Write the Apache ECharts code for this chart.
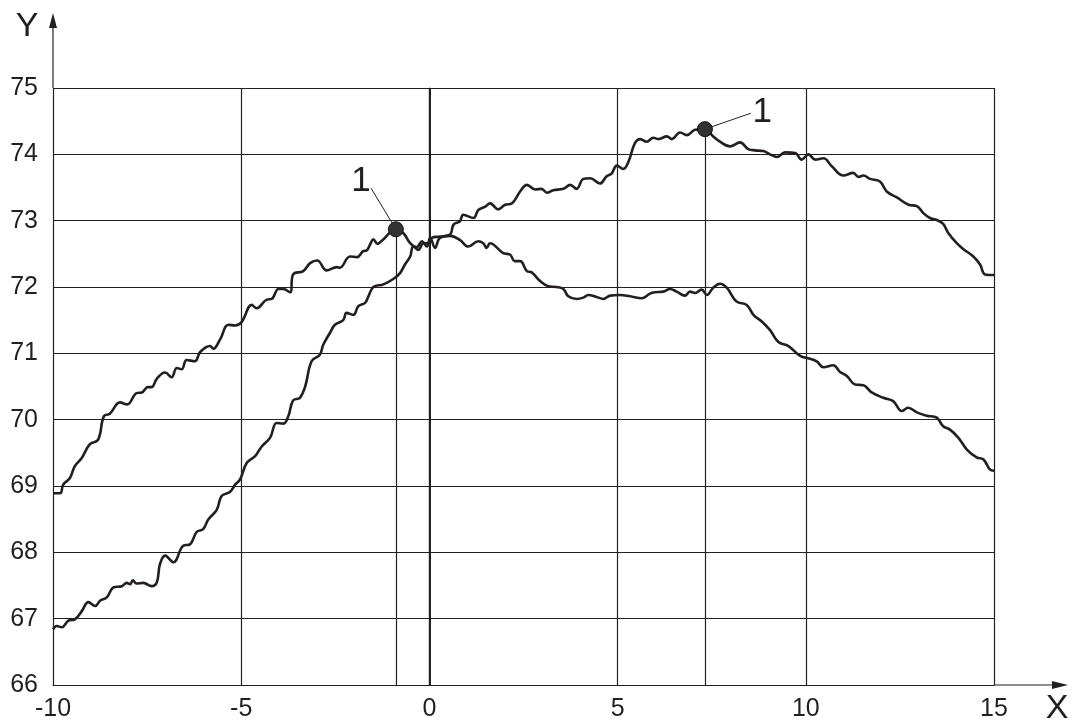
<!DOCTYPE html>
<html>
<head>
<meta charset="utf-8">
<script src="https://cdn.jsdelivr.net/npm/echarts@6/dist/echarts.min.js"></script>
<style>
  html, body { margin: 0; padding: 0; background: #fff; }
  #chart { width: 1072px; height: 722px; }
</style>
</head>
<body>
<div id="chart"></div>
<script>
// curve that peaks near x = -1 and ends low
var xA = [-10.00, -9.81, -9.73, -9.55, -9.42, -9.24, -9.02, -8.80, -8.65, -8.49, -8.22, -8.03, -7.78, -7.64, -7.48, -7.38, -7.24, -7.02, -6.85, -6.71,
  -6.58, -6.45, -6.23, -6.09, -5.83, -5.74, -5.56, -5.34, -5.16, -4.99, -4.72, -4.59, -4.32, -4.19, -4.01, -3.88, -3.70, -3.62, -3.35, -3.17,
  -2.98, -2.73, -2.46, -2.38, -2.11, -1.92, -1.76, -1.67, -1.56, -1.49, -1.38, -1.24, -0.89, -0.69, -0.51, -0.34, -0.20, -0.07, 0.02, 0.15,
  0.28, 0.55, 0.81, 1.03, 1.30, 1.43, 1.52, 1.61, 1.96, 2.14, 2.27, 2.41, 2.59, 2.72, 2.94, 3.16, 3.38, 3.56, 3.69, 3.91,
  4.09, 4.22, 4.44, 4.62, 4.80, 5.06, 5.33, 5.64, 5.86, 5.99, 6.21, 6.39, 6.57, 6.79, 6.92, 7.06, 7.23, 7.37, 7.54, 7.72,
  7.90, 8.16, 8.43, 8.61, 8.83, 9.05, 9.27, 9.54, 9.85, 10.11, 10.29, 10.47, 10.73, 10.91, 11.09, 11.31, 11.53, 11.75, 12.06, 12.32,
  12.55, 12.72, 12.95, 13.21, 13.48, 13.65, 13.83, 14.05, 14.28, 14.54, 14.72, 14.89, 15.00];
var yA = [68.89, 68.89, 69.02, 69.12, 69.30, 69.42, 69.63, 69.70, 70.05, 70.09, 70.26, 70.23, 70.40, 70.41, 70.49, 70.49, 70.62, 70.71, 70.64, 70.78,
  70.76, 70.90, 70.88, 71.02, 71.11, 71.07, 71.21, 71.43, 71.42, 71.47, 71.73, 71.68, 71.81, 71.82, 71.97, 71.97, 71.92, 72.19, 72.24, 72.36,
  72.40, 72.25, 72.30, 72.29, 72.46, 72.45, 72.54, 72.55, 72.66, 72.72, 72.65, 72.71, 72.87, 72.81, 72.66, 72.60, 72.69, 72.61, 72.74, 72.59,
  72.74, 72.77, 72.71, 72.61, 72.69, 72.66, 72.59, 72.66, 72.51, 72.49, 72.39, 72.39, 72.24, 72.22, 72.09, 72.01, 72.00, 71.97, 71.86, 71.82,
  71.84, 71.88, 71.85, 71.82, 71.87, 71.88, 71.86, 71.83, 71.90, 71.92, 71.93, 71.97, 71.93, 71.87, 71.93, 71.91, 71.96, 71.88, 71.99, 72.05,
  71.99, 71.78, 71.73, 71.58, 71.48, 71.35, 71.17, 71.11, 70.96, 70.92, 70.88, 70.79, 70.82, 70.72, 70.66, 70.53, 70.52, 70.41, 70.33, 70.28,
  70.13, 70.18, 70.11, 70.06, 70.03, 69.90, 69.85, 69.73, 69.55, 69.43, 69.40, 69.25, 69.23];

// curve that starts low and peaks near x = 7.3
var xB = [-10.00, -9.90, -9.77, -9.59, -9.42, -9.24, -9.06, -8.88, -8.75, -8.57, -8.40, -8.17, -8.04, -7.95, -7.88, -7.78, -7.60, -7.38, -7.24, -7.16,
  -7.02, -6.80, -6.54, -6.36, -6.18, -6.01, -5.87, -5.65, -5.52, -5.30, -5.16, -5.03, -4.85, -4.63, -4.45, -4.23, -4.06, -3.88, -3.75, -3.62,
  -3.44, -3.30, -3.13, -2.91, -2.82, -2.64, -2.51, -2.29, -2.20, -2.02, -1.89, -1.71, -1.62, -1.49, -1.22, -0.96, -0.78, -0.65, -0.51, -0.43,
  -0.29, -0.16, -0.03, 0.06, 0.28, 0.55, 0.64, 0.81, 0.90, 1.17, 1.30, 1.48, 1.61, 1.83, 2.01, 2.19, 2.41, 2.59, 2.81, 2.98,
  3.12, 3.29, 3.56, 3.74, 3.91, 4.09, 4.27, 4.53, 4.71, 4.84, 4.98, 5.15, 5.29, 5.46, 5.60, 5.77, 5.95, 6.08, 6.31, 6.44,
  6.66, 6.84, 7.06, 7.32, 7.54, 7.72, 7.99, 8.25, 8.47, 8.65, 8.87, 9.05, 9.23, 9.45, 9.72, 9.89, 10.07, 10.25, 10.47, 10.69,
  11.00, 11.26, 11.40, 11.53, 11.71, 11.97, 12.15, 12.42, 12.73, 12.95, 13.13, 13.30, 13.48, 13.65, 13.79, 14.01, 14.19, 14.45, 14.63, 14.76, 15.00];
var yB = [66.84, 66.89, 66.87, 66.97, 66.99, 67.11, 67.25, 67.19, 67.27, 67.32, 67.47, 67.49, 67.54, 67.52, 67.58, 67.53, 67.54, 67.49, 67.55, 67.82,
  67.95, 67.85, 68.10, 68.12, 68.31, 68.35, 68.50, 68.64, 68.85, 68.91, 69.02, 69.10, 69.35, 69.45, 69.60, 69.73, 69.95, 69.94, 70.05, 70.29,
  70.33, 70.50, 70.88, 70.98, 71.13, 71.31, 71.43, 71.50, 71.61, 71.58, 71.71, 71.76, 71.86, 72.00, 72.04, 72.12, 72.21, 72.34, 72.46, 72.61,
  72.56, 72.66, 72.66, 72.74, 72.76, 72.79, 72.94, 72.99, 73.09, 73.04, 73.16, 73.21, 73.26, 73.17, 73.24, 73.26, 73.44, 73.54, 73.47, 73.48,
  73.42, 73.46, 73.48, 73.54, 73.48, 73.63, 73.64, 73.56, 73.67, 73.71, 73.83, 73.78, 73.89, 74.17, 74.23, 74.19, 74.25, 74.23, 74.27, 74.23,
  74.33, 74.29, 74.37, 74.38, 74.27, 74.19, 74.12, 74.18, 74.08, 74.06, 74.05, 74.00, 73.96, 74.03, 74.02, 73.92, 74.00, 73.92, 73.94, 73.82,
  73.68, 73.72, 73.66, 73.68, 73.63, 73.59, 73.44, 73.35, 73.24, 73.22, 73.11, 73.04, 73.01, 72.95, 72.81, 72.66, 72.57, 72.46, 72.34, 72.19, 72.18];

// marked points "1" and where their labels sit
var peakPoints = [[-0.89, 72.87], [7.32, 74.38]];
var peakLabels = [[-1.82, 73.59], [8.84, 74.63]];
var leaderEnds = [[-1.55, 73.49], [8.54, 74.62]];

var xMin = -10, xMax = 15, xStep = 5;
var yMin = 66, yMax = 75, yStep = 1;

var ink = '#231f20';
var font = '"Liberation Sans", Arial, sans-serif';

function zip(xs, ys) {
  return xs.map(function (x, i) { return [x, ys[i]]; });
}

var chart = echarts.init(document.getElementById('chart'));

var dropLines = [];
peakPoints.forEach(function (p, i) {
  dropLines.push([{ coord: p }, { coord: [p[0], yMin] }]);
  dropLines.push([{ coord: p }, { coord: leaderEnds[i], lineStyle: { width: 1 } }]);
});

chart.setOption({
  animation: false,
  backgroundColor: '#fff',
  grid: { left: 53, right: 78, top: 88, bottom: 36 },
  xAxis: {
    type: 'value',
    min: xMin, max: xMax, interval: xStep,
    axisLine: { lineStyle: { color: ink, width: 1.2 } },
    axisTick: { show: false },
    axisLabel: { color: ink, fontSize: 25, fontFamily: font, margin: 12 },
    splitLine: { show: true, lineStyle: { color: ink, width: 1.2 } }
  },
  yAxis: {
    type: 'value',
    min: yMin, max: yMax, interval: yStep,
    axisLine: { show: true, lineStyle: { color: ink, width: 1.2 } },
    axisTick: { show: false },
    axisLabel: { color: ink, fontSize: 25, fontFamily: font, margin: 15 },
    splitLine: { show: true, lineStyle: { color: ink, width: 1.2 } }
  },
  series: [
    {
      type: 'line',
      data: zip(xA, yA),
      smooth: 0.4,
      showSymbol: false,
      lineStyle: { color: ink, width: 2.6 },
      z: 3,
      markLine: {
        silent: true,
        symbol: 'none',
        label: { show: false },
        lineStyle: { color: ink, width: 2, type: 'solid' },
        data: [{ xAxis: 0 }]
      }
    },
    {
      type: 'line',
      data: zip(xB, yB),
      smooth: 0.4,
      showSymbol: false,
      lineStyle: { color: ink, width: 2.6 },
      z: 3
    },
    {
      type: 'scatter',
      data: peakPoints,
      symbolSize: 15,
      itemStyle: { color: '#333', borderColor: '#111', borderWidth: 1, opacity: 1 },
      z: 5,
      markLine: {
        silent: true,
        symbol: 'none',
        label: { show: false },
        lineStyle: { color: ink, width: 1.2, type: 'solid' },
        data: dropLines
      },
      markPoint: {
        symbol: 'circle',
        symbolSize: 1,
        itemStyle: { color: 'rgba(0,0,0,0)' },
        label: { show: true, position: 'inside', formatter: '1', color: ink, fontSize: 35, fontFamily: font },
        data: peakLabels.map(function (c) { return { coord: c }; })
      }
    }
  ]
});

// axis extensions with arrows and the X / Y names
var origin = chart.convertToPixel({ gridIndex: 0 }, [xMin, yMin]);
var corner = chart.convertToPixel({ gridIndex: 0 }, [xMax, yMax]);
var yTip = [origin[0], 13];
var xTip = [corner[0] + 74, origin[1]];

chart.setOption({
  graphic: [
    { type: 'line', shape: { x1: origin[0], y1: corner[1], x2: yTip[0], y2: yTip[1] + 8 }, style: { stroke: ink, lineWidth: 1.2 } },
    { type: 'polygon', shape: { points: [[yTip[0], yTip[1]], [yTip[0] - 4, yTip[1] + 15], [yTip[0] + 4, yTip[1] + 15]] }, style: { fill: ink } },
    { type: 'line', shape: { x1: corner[0], y1: origin[1], x2: xTip[0] - 8, y2: xTip[1] }, style: { stroke: ink, lineWidth: 1.2 } },
    { type: 'polygon', shape: { points: [[xTip[0], xTip[1]], [xTip[0] - 16, xTip[1] - 4], [xTip[0] - 16, xTip[1] + 4]] }, style: { fill: ink } },
    { type: 'text', x: 27, y: 27, style: { text: 'Y', font: '34px ' + font, fill: ink, align: 'center', verticalAlign: 'middle' } },
    { type: 'text', x: 1057, y: 709, style: { text: 'X', font: '34px ' + font, fill: ink, align: 'center', verticalAlign: 'middle' } }
  ]
});
</script>
</body>
</html>
